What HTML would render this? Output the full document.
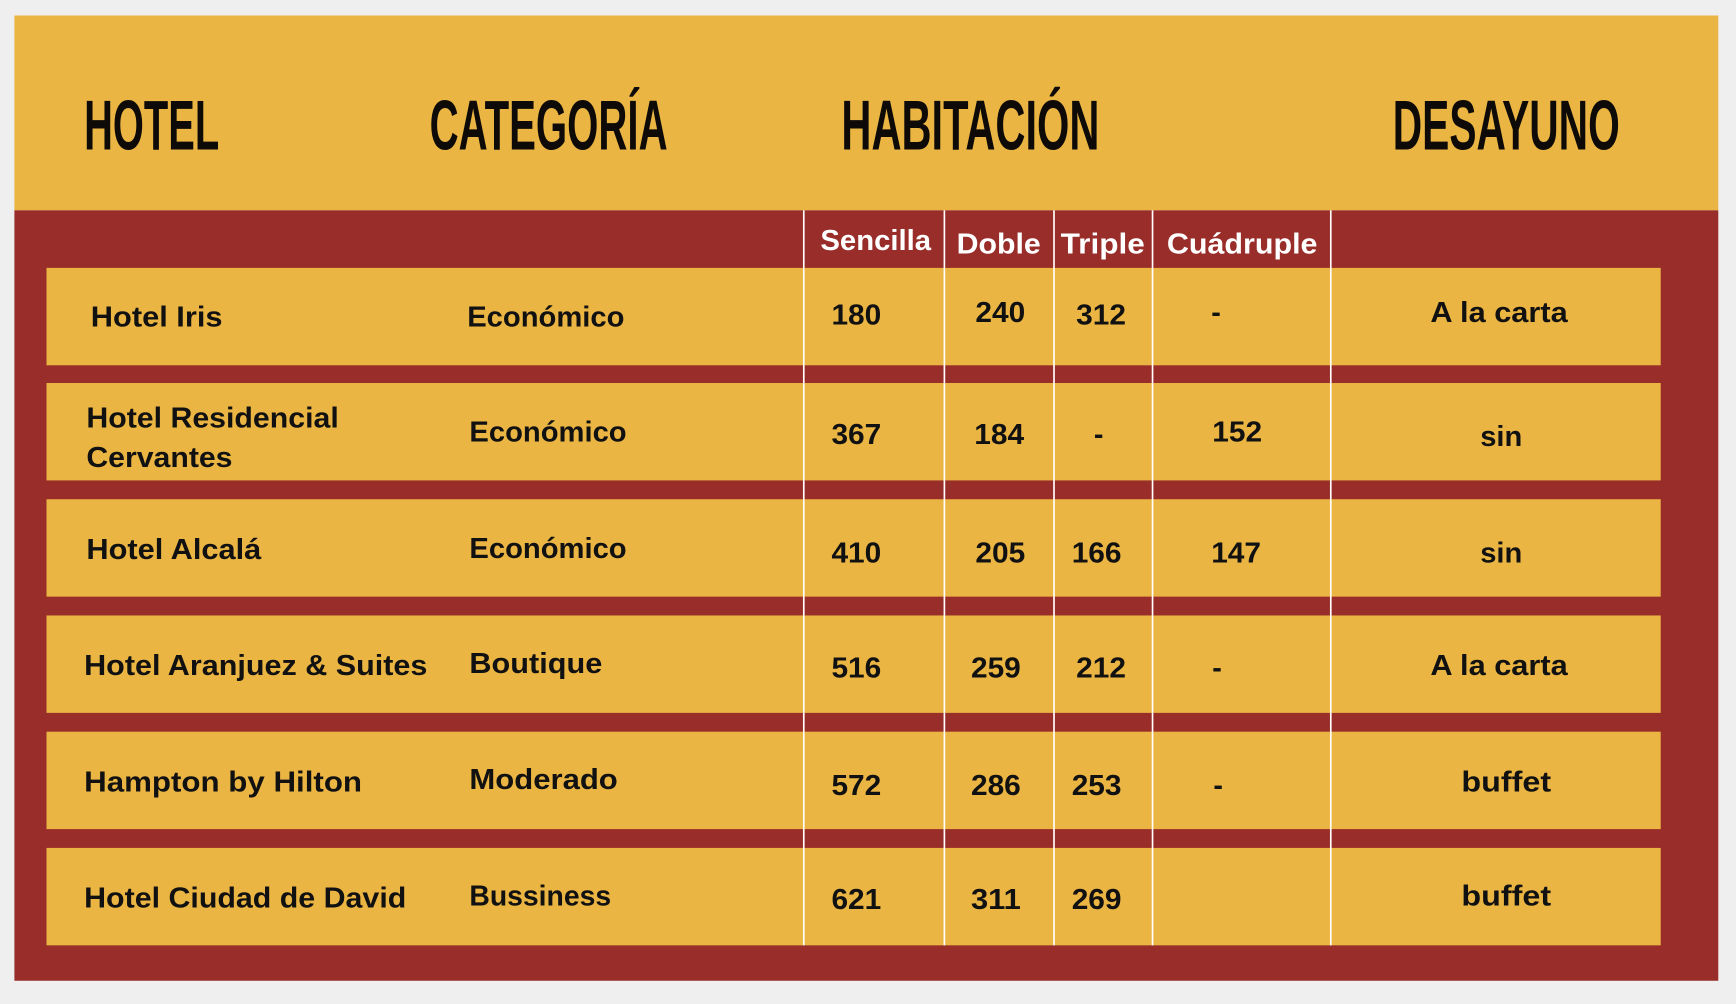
<!DOCTYPE html>
<html><head><meta charset="utf-8"><style>
html,body{margin:0;padding:0;background:#efefef;}
svg{display:block;}
.h{font-family:"Liberation Sans Narrow","Liberation Sans",sans-serif;font-weight:bold;font-size:64px;fill:#0d0a07;}
.s{font-family:"Liberation Sans",sans-serif;font-weight:bold;font-size:26px;fill:#fff;}
.b{font-family:"Liberation Sans",sans-serif;font-weight:bold;font-size:26px;fill:#111;}
</style></head><body>
<svg width="1736" height="1004" viewBox="0 0 1568 907" preserveAspectRatio="none" xmlns="http://www.w3.org/2000/svg">
<rect x="0" y="0" width="1568" height="907" fill="#efefef"/>
<rect x="13" y="14" width="1539" height="176" fill="#EAB543"/>
<rect x="13" y="190" width="1539" height="696" fill="#992D2A"/>
<g fill="#EAB543">
<rect x="42" y="242" width="1458" height="88"/>
<rect x="42" y="346" width="1458" height="88"/>
<rect x="42" y="451" width="1458" height="88"/>
<rect x="42" y="556" width="1458" height="88"/>
<rect x="42" y="661" width="1458" height="88"/>
<rect x="42" y="766" width="1458" height="88"/>
</g>
<g stroke="#fff" stroke-width="1.5">
<line x1="726" y1="190" x2="726" y2="854"/>
<line x1="853" y1="190" x2="853" y2="854"/>
<line x1="952" y1="190" x2="952" y2="854"/>
<line x1="1041" y1="190" x2="1041" y2="854"/>
<line x1="1202" y1="190" x2="1202" y2="854"/>
</g>
<text class="h" x="76" y="135" textLength="122" lengthAdjust="spacingAndGlyphs">HOTEL</text>
<text class="h" x="388" y="135" textLength="215" lengthAdjust="spacingAndGlyphs">CATEGORÍA</text>
<text class="h" x="760" y="135" textLength="233" lengthAdjust="spacingAndGlyphs">HABITACIÓN</text>
<text class="h" x="1258" y="135" textLength="205" lengthAdjust="spacingAndGlyphs">DESAYUNO</text>
<text class="s" x="741" y="226" textLength="100" lengthAdjust="spacingAndGlyphs">Sencilla</text>
<text class="s" x="864" y="229" textLength="76" lengthAdjust="spacingAndGlyphs">Doble</text>
<text class="s" x="958" y="229" textLength="76" lengthAdjust="spacingAndGlyphs">Triple</text>
<text class="s" x="1054" y="229" textLength="136" lengthAdjust="spacingAndGlyphs">Cuádruple</text>
<g class="b">
<text class="b" x="82" y="295" textLength="119" lengthAdjust="spacingAndGlyphs">Hotel Iris</text>
<text class="b" x="422" y="295" textLength="142" lengthAdjust="spacingAndGlyphs">Económico</text>
<text class="b" x="751" y="293" textLength="45" lengthAdjust="spacingAndGlyphs">180</text>
<text class="b" x="881" y="291" textLength="45" lengthAdjust="spacingAndGlyphs">240</text>
<text class="b" x="972" y="293" textLength="45" lengthAdjust="spacingAndGlyphs">312</text>
<text class="b" x="1094" y="291">-</text>
<text class="b" x="1292" y="291" textLength="124" lengthAdjust="spacingAndGlyphs">A la carta</text>

<text class="b" x="78" y="386" textLength="228" lengthAdjust="spacingAndGlyphs">Hotel Residencial</text>
<text class="b" x="78" y="422" textLength="132" lengthAdjust="spacingAndGlyphs">Cervantes</text>
<text class="b" x="424" y="399" textLength="142" lengthAdjust="spacingAndGlyphs">Económico</text>
<text class="b" x="751" y="401" textLength="45" lengthAdjust="spacingAndGlyphs">367</text>
<text class="b" x="880" y="401" textLength="45" lengthAdjust="spacingAndGlyphs">184</text>
<text class="b" x="988" y="401">-</text>
<text class="b" x="1095" y="399" textLength="45" lengthAdjust="spacingAndGlyphs">152</text>
<text class="b" x="1337" y="403" textLength="38" lengthAdjust="spacingAndGlyphs">sin</text>

<text class="b" x="78" y="505" textLength="158" lengthAdjust="spacingAndGlyphs">Hotel Alcalá</text>
<text class="b" x="424" y="504" textLength="142" lengthAdjust="spacingAndGlyphs">Económico</text>
<text class="b" x="751" y="508" textLength="45" lengthAdjust="spacingAndGlyphs">410</text>
<text class="b" x="881" y="508" textLength="45" lengthAdjust="spacingAndGlyphs">205</text>
<text class="b" x="968" y="508" textLength="45" lengthAdjust="spacingAndGlyphs">166</text>
<text class="b" x="1094" y="508" textLength="45" lengthAdjust="spacingAndGlyphs">147</text>
<text class="b" x="1337" y="508" textLength="38" lengthAdjust="spacingAndGlyphs">sin</text>

<text class="b" x="76" y="610" textLength="310" lengthAdjust="spacingAndGlyphs">Hotel Aranjuez &amp; Suites</text>
<text class="b" x="424" y="608" textLength="120" lengthAdjust="spacingAndGlyphs">Boutique</text>
<text class="b" x="751" y="612" textLength="45" lengthAdjust="spacingAndGlyphs">516</text>
<text class="b" x="877" y="612" textLength="45" lengthAdjust="spacingAndGlyphs">259</text>
<text class="b" x="972" y="612" textLength="45" lengthAdjust="spacingAndGlyphs">212</text>
<text class="b" x="1095" y="612">-</text>
<text class="b" x="1292" y="610" textLength="124" lengthAdjust="spacingAndGlyphs">A la carta</text>

<text class="b" x="76" y="715" textLength="251" lengthAdjust="spacingAndGlyphs">Hampton by Hilton</text>
<text class="b" x="424" y="713" textLength="134" lengthAdjust="spacingAndGlyphs">Moderado</text>
<text class="b" x="751" y="718" textLength="45" lengthAdjust="spacingAndGlyphs">572</text>
<text class="b" x="877" y="718" textLength="45" lengthAdjust="spacingAndGlyphs">286</text>
<text class="b" x="968" y="718" textLength="45" lengthAdjust="spacingAndGlyphs">253</text>
<text class="b" x="1096" y="718">-</text>
<text class="b" x="1320" y="715" textLength="81" lengthAdjust="spacingAndGlyphs">buffet</text>

<text class="b" x="76" y="820" textLength="291" lengthAdjust="spacingAndGlyphs">Hotel Ciudad de David</text>
<text class="b" x="424" y="818" textLength="128" lengthAdjust="spacingAndGlyphs">Bussiness</text>
<text class="b" x="751" y="821" textLength="45" lengthAdjust="spacingAndGlyphs">621</text>
<text class="b" x="877" y="821" textLength="45" lengthAdjust="spacingAndGlyphs">311</text>
<text class="b" x="968" y="821" textLength="45" lengthAdjust="spacingAndGlyphs">269</text>
<text class="b" x="1320" y="818" textLength="81" lengthAdjust="spacingAndGlyphs">buffet</text>
</g>
</svg>
</body></html>
